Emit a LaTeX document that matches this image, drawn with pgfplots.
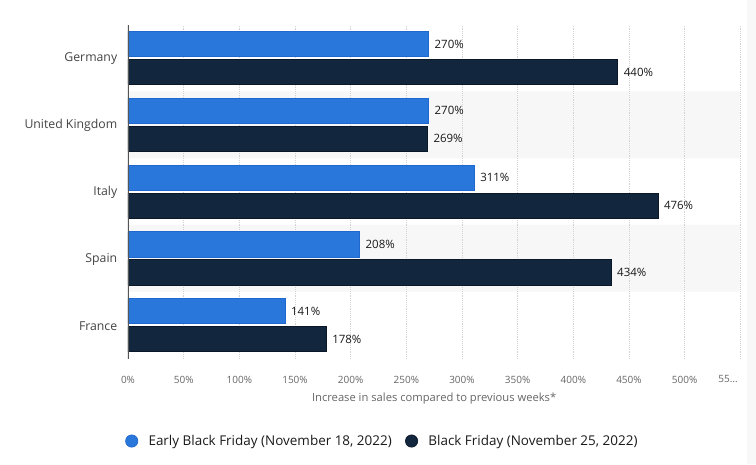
\documentclass[border=0pt]{standalone}
\usepackage{pgfplots}
\pgfplotsset{compat=1.18}
\usepackage{fontspec}
\setmainfont{Open Sans}
\definecolor{ebf}{HTML}{2A77DC}
\definecolor{ebfd}{HTML}{1E68CF}
\definecolor{bf}{HTML}{12273E}
\definecolor{bfd}{HTML}{0A1727}
\definecolor{band}{HTML}{F7F7F7}
\definecolor{strip}{HTML}{F8F8F8}
\definecolor{gridc}{HTML}{D2D2D2}
\definecolor{tickc}{HTML}{666666}
\definecolor{labc}{HTML}{444444}
\definecolor{valc}{HTML}{1A1A1A}
\definecolor{axc}{HTML}{555555}
\pgfplotsset{
  geom/.style={at={(96pt,79.1pt)}, anchor=south west, scale only axis,
    width=459.2pt, height=250.5pt, xmin=0, xmax=550, ymin=-0.5, ymax=4.5},
}
\begin{document}
\begin{tikzpicture}
\fill[white] (0,0) rectangle (567pt,348pt);
\fill[strip] (560pt,0) rectangle (567pt,348pt);
\begin{axis}[geom, hide axis]
\addplot[fill=band, draw=none] coordinates {(0,2.5) (550,2.5) (550,3.5) (0,3.5) (0,2.5)};
\addplot[fill=band, draw=none] coordinates {(0,0.5) (550,0.5) (550,1.5) (0,1.5) (0,0.5)};
\end{axis}
\begin{axis}[
  geom,
  ytick={0,1,2,3,4},
  yticklabels={France,Spain,Italy,United Kingdom,Germany},
  xtick={0,50,100,150,200,250,300,350,400,450,500,550},
  xticklabels={0\%,50\%,100\%,150\%,200\%,250\%,300\%,350\%,400\%,450\%,500\%,\makebox[0pt][r]{55…\hspace{2pt}}},
  axis line style={draw=none}, major tick style={draw=none},
  xmajorgrids, grid style={gridc, densely dotted, line width=0.6pt},
  xticklabel style={font=\fontsize{7.5}{9}\selectfont, text=tickc, yshift=-9.4pt},
  yticklabel style={font=\fontsize{9.2}{10}\selectfont, text=labc, xshift=-0.3pt, yshift=-0.6pt},
  xlabel={Increase in sales compared to previous weeks*},
  xlabel style={font=\fontsize{8.4}{9}\selectfont, text=tickc, yshift=-0.3pt},
  /pgf/number format/assume math mode=true,
  xbar, bar width=18.8pt,
  nodes near coords={\pgfmathprintnumber{\pgfplotspointmeta}\%},
  every node near coord/.append style={font=\fontsize{8.6}{10}\selectfont, text=valc, anchor=west, xshift=1pt},
  legend columns=2,
  legend style={at={(0.416,-0.247)}, anchor=center, draw=none, fill=none,
    font=\fontsize{10.1}{12}\selectfont, text=valc,
    /tikz/every even column/.append style={column sep=8pt}},
  legend image code/.code={\fill[#1] (0,0) circle (4.6pt); \path[draw=none, fill=none] (-4.6pt,0) -- (10.6pt,0);},
]
\addplot[fill=ebf, draw=ebfd, line width=0.5pt, bar shift=10.5pt] coordinates {(141,0) (208,1) (311,2) (270,3) (270,4)};
\addlegendentry{Early Black Friday (November 18, 2022)}
\addplot[fill=bf, draw=bfd, line width=0.5pt, bar shift=-10.5pt] coordinates {(178,0) (434,1) (476,2) (269,3) (440,4)};
\addlegendentry{Black Friday (November 25, 2022)}
\draw[axc, line width=1pt] ([yshift=-1.2pt]rel axis cs:0,0) -- (rel axis cs:0,1);
\end{axis}
\end{tikzpicture}
\end{document}
